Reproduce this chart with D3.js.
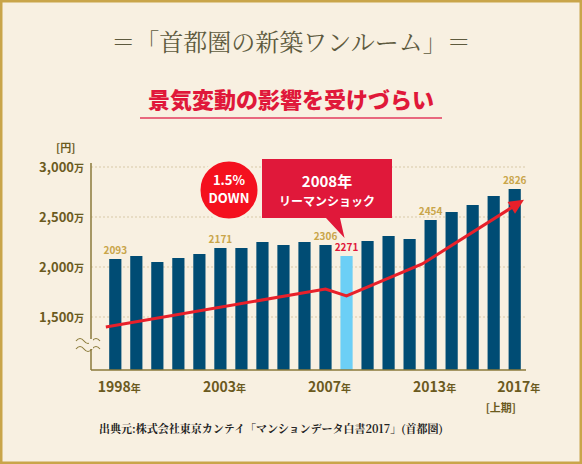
<!DOCTYPE html>
<html><head><meta charset="utf-8">
<script src="https://cdn.jsdelivr.net/npm/d3@7"></script>
<style>body{margin:0;background:#f8f0e1;}svg{display:block;font-family:"Noto Sans CJK JP",sans-serif;}</style>
</head><body>
<svg id="chart" width="582" height="464"></svg>
<script>
const years = d3.range(20);
const values = [2080, 2110, 2050, 2090, 2130, 2190, 2190, 2250, 2220, 2250, 2220, 2110, 2260, 2310, 2280, 2470, 2550, 2620, 2710, 2780];
const valueLabels = [[0, "2093"], [5, "2171"], [10, "2306"], [11, "2271"], [15, "2454"], [19, "2826"]];
const tickLabels = [[0, "1998"], [5, "2003"], [10, "2007"], [15, "2013"], [19, "2017"]];
const yTicks = [1500, 2000, 2500, 3000];
const trendX = [-0.45, 10, 11, 14.6, 19.2];
const trendY = [1400, 1780, 1710, 2030, 2640];
const highlight = 11;

const svg = d3.select("#chart");
svg.append("rect").attr("x", 1).attr("y", 1).attr("width", 580).attr("height", 462)
  .attr("fill", "#f8f0e1").attr("stroke", "#c9a54a").attr("stroke-width", 3);

svg.append("text").attr("x", 291).attr("y", 51).attr("text-anchor", "middle")
  .attr("font-family", "'Noto Serif CJK JP','Noto Sans CJK JP',serif").attr("font-size", 24)
  .attr("fill", "#5e5a3e").text("＝「首都圏の新築ワンルーム」＝");
svg.append("text").attr("x", 291).attr("y", 108).attr("text-anchor", "middle")
  .attr("font-size", 22).attr("font-weight", 900).attr("fill", "#e0183a").text("景気変動の影響を受けづらい");
svg.append("line").attr("x1", 140).attr("x2", 442).attr("y1", 118).attr("y2", 118)
  .attr("stroke", "#e8687e").attr("stroke-width", 2);

const x = d3.scaleBand().domain(years).range([105, 525]).paddingInner(0.42).paddingOuter(0.2);
const y = d3.scaleLinear().domain([970, 3000]).range([370, 167]);
const cx = i => x(0) + x.bandwidth() / 2 + i * x.step();

const g = svg.append("g");
g.selectAll(".grid").data(yTicks).join("line")
  .attr("x1", 91).attr("x2", 525).attr("y1", d => y(d)).attr("y2", d => y(d))
  .attr("stroke", "#d8c9a8").attr("stroke-dasharray", "2,2");

g.selectAll(".bar").data(values).join("rect")
  .attr("x", (d, i) => x(i)).attr("width", x.bandwidth())
  .attr("y", d => y(d)).attr("height", d => 370 - y(d))
  .attr("fill", (d, i) => i === highlight ? "#6ccff6" : "#004c74");

// axes
g.append("line").attr("x1", 91).attr("x2", 91).attr("y1", 163).attr("y2", 370).attr("stroke", "#8b7a3a").attr("stroke-width", 1.5);
g.append("line").attr("x1", 91).attr("x2", 526).attr("y1", 370).attr("y2", 370).attr("stroke", "#8b7a3a").attr("stroke-width", 1.5);
// break mark
[341, 349].forEach(yy => {
  g.append("path").attr("d", `M76,${yy} q4,-5 8,0 t8,0 t8,0`).attr("fill", "none").attr("stroke", "#8b7a3a").attr("stroke-width", 1.2);
});
g.append("rect").attr("x", 89).attr("y", 339).attr("width", 4).attr("height", 10).attr("fill", "#f8f0e1");
g.append("text").attr("x", 56).attr("y", 152).attr("font-size", 11).attr("font-weight", 700).attr("fill", "#6b5a1e").text("[円]");
const yl = g.selectAll(".yl").data(yTicks).join("text")
  .attr("x", 84).attr("y", d => y(d) + 5).attr("text-anchor", "end")
  .attr("font-size", 13).attr("font-weight", 700).attr("fill", "#6b5a1e");
yl.append("tspan").text(d => d3.format(",")(d));
yl.append("tspan").attr("font-size", 10).text("万");

g.selectAll(".xl").data(tickLabels).join("text")
  .attr("x", d => cx(d[0]) + 4).attr("y", 392).attr("text-anchor", "middle")
  .attr("font-size", 14).attr("font-weight", 700).attr("fill", "#6b5a1e")
  .html(d => `${d[1]}<tspan font-size="10">年</tspan>`);
g.append("text").attr("x", 516).attr("y", 412).attr("text-anchor", "end").attr("font-size", 11)
  .attr("font-weight", 700).attr("fill", "#6b5a1e").text("[上期]");

g.selectAll(".vl").data(valueLabels).join("text")
  .attr("x", d => cx(d[0])).attr("y", d => y(values[d[0]]) - 5).attr("text-anchor", "middle")
  .attr("font-size", 10).attr("font-weight", 700).attr("fill", d => d[0] === highlight ? "#e0183a" : "#c9a54a")
  .text(d => d[1]);

// trend line
const pts = trendX.map((v, i) => [cx(v), y(trendY[i])]);
g.append("path").attr("d", d3.line()(pts)).attr("fill", "none").attr("stroke", "#e8202a").attr("stroke-width", 3);
const [p1, p2] = pts.slice(-2);
const ang = Math.atan2(p2[1] - p1[1], p2[0] - p1[0]) * 180 / Math.PI;
g.append("path").attr("d", "M6,0 L-9,-7 L-9,7 Z").attr("fill", "#e8202a")
  .attr("transform", `translate(${p2[0]},${p2[1]}) rotate(${ang})`);

// callout
const c = svg.append("g");
c.append("path").attr("d", `M262,159 H392 V218 H340 L${cx(highlight) - 2},238 L326,218 H262 Z`).attr("fill", "#e0183a");
c.append("circle").attr("cx", 229).attr("cy", 190).attr("r", 30).attr("fill", "#f4101e").attr("stroke", "#f8f0e1").attr("stroke-width", 3);
c.append("text").attr("x", 229).attr("y", 185).attr("text-anchor", "middle").attr("font-size", 13).attr("font-weight", 700).attr("fill", "#fff").text("1.5%");
c.append("text").attr("x", 229).attr("y", 203).attr("text-anchor", "middle").attr("font-size", 13).attr("font-weight", 700).attr("fill", "#fff").text("DOWN");
c.append("text").attr("x", 327).attr("y", 187).attr("text-anchor", "middle").attr("font-size", 15).attr("font-weight", 700).attr("fill", "#fff").text("2008年");
c.append("text").attr("x", 327).attr("y", 206).attr("text-anchor", "middle").attr("font-size", 12).attr("font-weight", 700).attr("fill", "#fff").text("リーマンショック");

svg.append("text").attr("x", 271).attr("y", 433).attr("text-anchor", "middle").attr("font-size", 11)
  .attr("font-family", "'Noto Serif CJK JP','Noto Sans CJK JP',serif").attr("font-weight", 700).attr("fill", "#222")
  .text("出典元:株式会社東京カンテイ「マンションデータ白書2017」(首都圏)");
</script>
</body></html>
